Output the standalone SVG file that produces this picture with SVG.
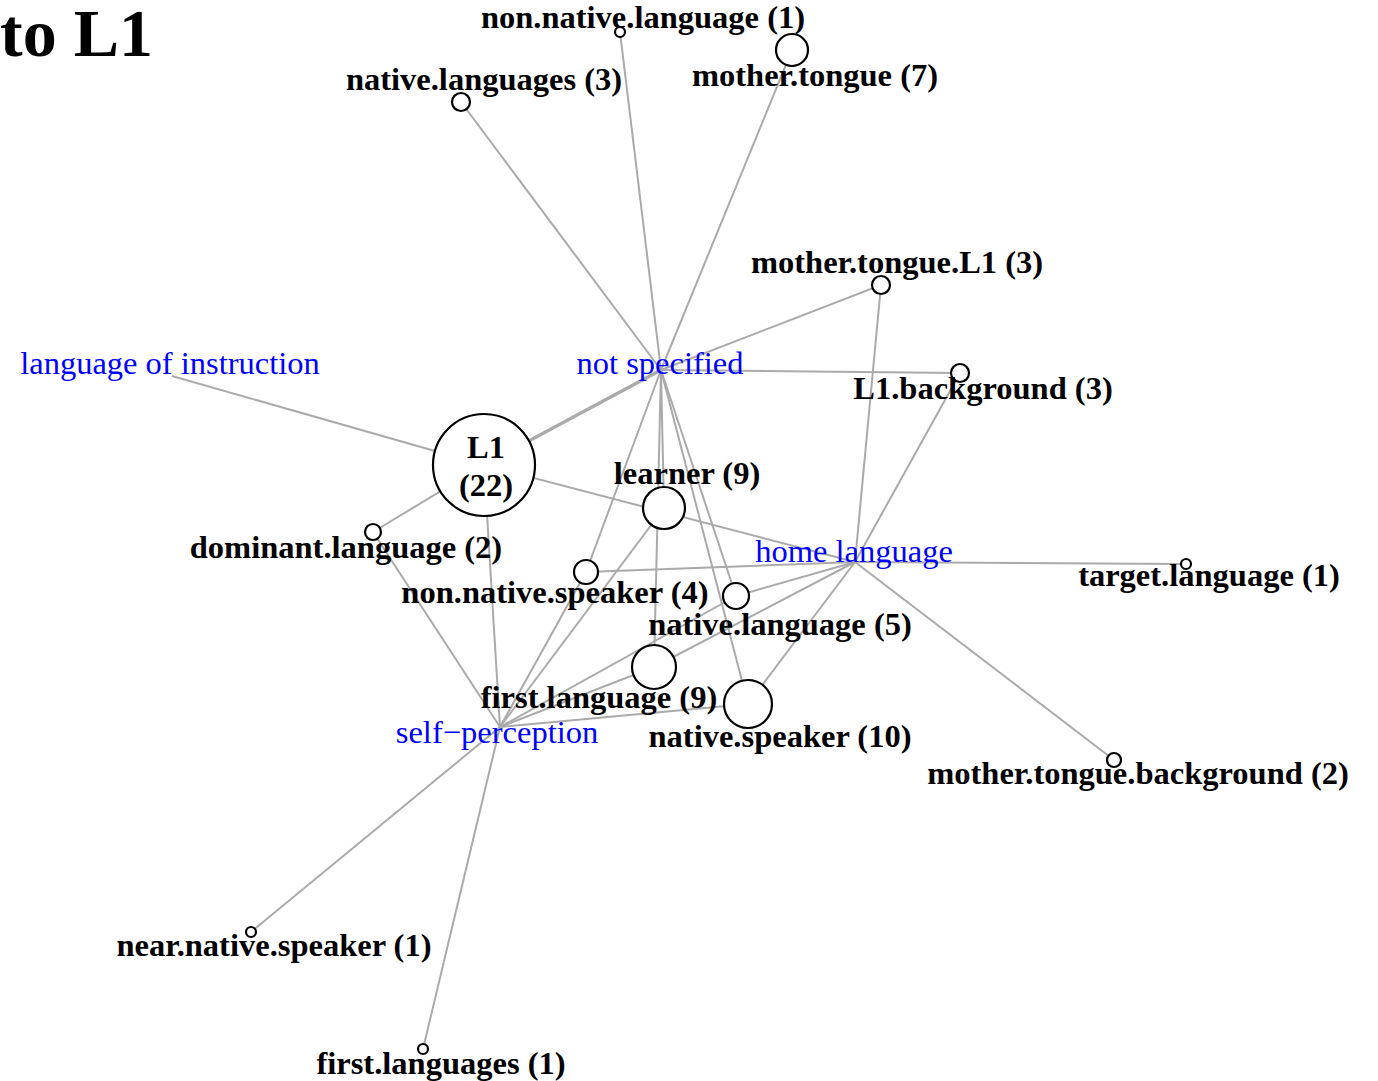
<svg xmlns="http://www.w3.org/2000/svg" width="1378" height="1081" viewBox="0 0 1378 1081">
<style>
.e{stroke:#aaaaaa;stroke-width:2;fill:none}
.n{fill:#ffffff;stroke:#000000;stroke-width:2.2}
.l{font-family:"Liberation Serif",serif;font-weight:bold;font-size:32.5px;fill:#000;text-anchor:middle}
.h{font-family:"Liberation Serif",serif;font-size:32.5px;fill:#0000ff;text-anchor:middle}
.t{font-family:"Liberation Serif",serif;font-weight:bold;font-size:68px;fill:#000}
</style>
<rect width="1378" height="1081" fill="#ffffff"/>
<text class="t" x="0" y="56">to L1</text>
<g id="connectors">
<line class="e" x1="661" y1="370" x2="620" y2="32"/>
<line class="e" x1="661" y1="370" x2="792" y2="50"/>
<line class="e" x1="661" y1="370" x2="461" y2="102"/>
<line class="e" x1="661" y1="370" x2="881" y2="285"/>
<line class="e" x1="661" y1="370" x2="960" y2="373"/>
<line class="e" x1="661" y1="370" x2="484" y2="465" style="stroke-width:3.5"/>
<line class="e" x1="661" y1="370" x2="664" y2="508"/>
<line class="e" x1="661" y1="370" x2="654" y2="667"/>
<line class="e" x1="661" y1="370" x2="586" y2="572"/>
<line class="e" x1="661" y1="370" x2="736" y2="596"/>
<line class="e" x1="661" y1="370" x2="748" y2="704"/>
<line class="e" x1="172" y1="376" x2="484" y2="465"/>
<line class="e" x1="484" y1="465" x2="855" y2="562"/>
<line class="e" x1="484" y1="465" x2="373" y2="532"/>
<line class="e" x1="484" y1="465" x2="500" y2="727"/>
<line class="e" x1="855" y1="562" x2="881" y2="285"/>
<line class="e" x1="855" y1="562" x2="960" y2="373"/>
<line class="e" x1="855" y1="562" x2="1186" y2="564"/>
<line class="e" x1="855" y1="562" x2="1114" y2="760"/>
<line class="e" x1="855" y1="562" x2="586" y2="572"/>
<line class="e" x1="855" y1="562" x2="736" y2="596"/>
<line class="e" x1="855" y1="562" x2="654" y2="667"/>
<line class="e" x1="855" y1="562" x2="748" y2="704"/>
<line class="e" x1="500" y1="727" x2="373" y2="532"/>
<line class="e" x1="500" y1="727" x2="586" y2="572"/>
<line class="e" x1="500" y1="727" x2="664" y2="508"/>
<line class="e" x1="500" y1="727" x2="654" y2="667"/>
<line class="e" x1="500" y1="727" x2="736" y2="596"/>
<line class="e" x1="500" y1="727" x2="748" y2="704"/>
<line class="e" x1="500" y1="727" x2="251" y2="932"/>
<line class="e" x1="500" y1="727" x2="423" y2="1049"/>
</g>
<g id="hub-language-of-instruction"><text class="h" x="170" y="374">language of instruction</text></g>
<g id="hub-not-specified"><text class="h" x="660" y="374">not specified</text></g>
<g id="hub-home-language"><text class="h" x="854" y="562">home language</text></g>
<g id="hub-self-perception"><text class="h" x="497" y="743">self−perception</text></g>
<g id="node-L1"><circle class="n" cx="484" cy="465" r="51"/><text class="l" x="486" y="458">L1</text><text class="l" x="486" y="496">(22)</text></g>
<g id="node-learner"><circle class="n" cx="664" cy="508" r="21"/><text class="l" x="687" y="484">learner (9)</text></g>
<g id="node-non-native-speaker"><circle class="n" cx="586" cy="572" r="12"/><text class="l" x="555" y="603">non.native.speaker (4)</text></g>
<g id="node-native-language"><circle class="n" cx="736" cy="596" r="13"/><text class="l" x="780" y="635">native.language (5)</text></g>
<g id="node-first-language"><circle class="n" cx="654" cy="667" r="22"/><text class="l" x="599" y="708">first.language (9)</text></g>
<g id="node-native-speaker"><circle class="n" cx="748" cy="704" r="24"/><text class="l" x="780" y="747">native.speaker (10)</text></g>
<g id="node-dominant-language"><circle class="n" cx="373" cy="532" r="8"/><text class="l" x="346" y="558">dominant.language (2)</text></g>
<g id="node-target-language"><circle class="n" cx="1186" cy="564" r="5"/><text class="l" x="1209" y="586">target.language (1)</text></g>
<g id="node-mother-tongue-background"><circle class="n" cx="1114" cy="760" r="7"/><text class="l" x="1138" y="784">mother.tongue.background (2)</text></g>
<g id="node-near-native-speaker"><circle class="n" cx="251" cy="932" r="5"/><text class="l" x="274" y="956">near.native.speaker (1)</text></g>
<g id="node-first-languages"><circle class="n" cx="423" cy="1049" r="5"/><text class="l" x="441" y="1074">first.languages (1)</text></g>
<g id="node-non-native-language"><circle class="n" cx="620" cy="32" r="5"/><text class="l" x="643" y="28">non.native.language (1)</text></g>
<g id="node-mother-tongue"><circle class="n" cx="792" cy="50" r="16"/><text class="l" x="815" y="86">mother.tongue (7)</text></g>
<g id="node-native-languages"><circle class="n" cx="461" cy="102" r="9"/><text class="l" x="484" y="90">native.languages (3)</text></g>
<g id="node-mother-tongue-L1"><circle class="n" cx="881" cy="285" r="9"/><text class="l" x="897" y="273">mother.tongue.L1 (3)</text></g>
<g id="node-L1-background"><circle class="n" cx="960" cy="373" r="9"/><text class="l" x="983" y="399">L1.background (3)</text></g>
</svg>
